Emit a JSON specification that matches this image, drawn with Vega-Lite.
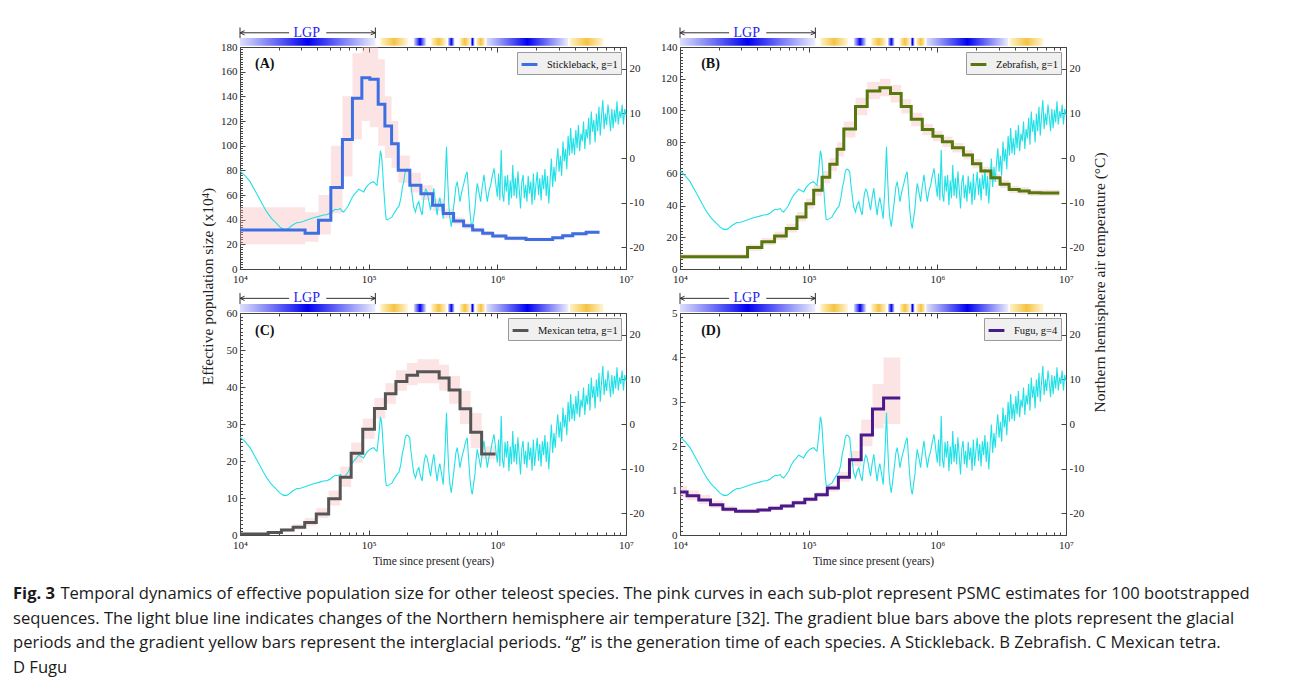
{
  "$schema": "https://vega.github.io/schema/vega-lite/v6.json",
  "background": "white",
  "padding": {"left": 13, "top": 25, "right": 5, "bottom": 5},
  "datasets": {
    "glacial": [{"t0":10000,"t1":112700},{"t0":224400,"t1":280000},{"t0":413000,"t1":466000},{"t0":617000,"t1":667000},{"t0":822000,"t1":3560000}],
    "interglacial": [{"t0":123300,"t1":201400},{"t0":306000,"t1":401000},{"t0":509000,"t1":617000},{"t0":687000,"t1":807000},{"t0":3660000,"t1":6670000}],
    "lgp_line": [{"t0":10000,"t1":24100},{"t0":46800,"t1":112700}],
    "lgp_ends": [{"t":10000,"side":"left"},{"t":112700,"side":"right"}],
    "lgp_label": [{"t":33000,"label":"LGP"}],
    "temp": [
      {"t":10000,"temp":-2.9},{"t":11000,"temp":-4.0},{"t":11970,"temp":-5.3},{"t":13000,"temp":-7.2},{"t":13900,"temp":-8.7},{"t":15000,"temp":-10.5},{"t":16140,"temp":-12.1},{"t":17500,"temp":-13.5},{"t":19320,"temp":-14.7},{"t":20500,"temp":-15.5},{"t":21780,"temp":-16.0},{"t":23000,"temp":-16.0},{"t":23820,"temp":-15.8},{"t":25500,"temp":-15.1},{"t":27670,"temp":-14.5},{"t":29500,"temp":-14.4},{"t":31190,"temp":-14.2},{"t":34000,"temp":-13.8},{"t":37240,"temp":-13.4},{"t":41000,"temp":-13.1},{"t":44570,"temp":-12.8},{"t":47500,"temp":-12.7},{"t":50120,"temp":-12.4},{"t":52500,"temp":-11.9},{"t":54950,"temp":-11.5},{"t":57500,"temp":-11.6},{"t":60120,"temp":-11.3},{"t":62000,"temp":-11.9},{"t":63830,"temp":-12.1},{"t":66500,"temp":-11.5},{"t":69820,"temp":-10.6},{"t":73000,"temp":-9.3},{"t":76380,"temp":-8.3},{"t":80000,"temp":-7.7},{"t":83560,"temp":-7.0},{"t":87500,"temp":-7.3},{"t":91410,"temp":-7.6},{"t":95500,"temp":-6.6},{"t":100000,"temp":-5.9},{"t":105000,"temp":-5.5},{"t":109400,"temp":-5.3},{"t":113000,"temp":-5.8},{"t":116100,"temp":-6.1},{"t":119500,"temp":-3.0},{"t":123300,"temp":1.6},{"t":125000,"temp":1.0},{"t":127100,"temp":-0.8},{"t":131000,"temp":-7.0},{"t":134900,"temp":-12.1},{"t":137000,"temp":-13.8},{"t":139000,"temp":-13.9},{"t":145000,"temp":-13.6},{"t":152100,"temp":-13.2},{"t":158000,"temp":-12.3},{"t":166300,"temp":-11.3},{"t":172000,"temp":-10.8},{"t":178000,"temp":-9.0},{"t":183000,"temp":-6.5},{"t":187500,"temp":-5.3},{"t":192000,"temp":-3.2},{"t":196800,"temp":-2.5},{"t":202000,"temp":-2.6},{"t":208400,"temp":-3.1},{"t":212000,"temp":-5.5},{"t":217800,"temp":-8.3},{"t":224000,"temp":-11.0},{"t":231200,"temp":-12.1},{"t":238000,"temp":-10.5},{"t":245500,"temp":-9.8},{"t":252000,"temp":-11.5},{"t":260600,"temp":-12.8},{"t":266000,"temp":-10.0},{"t":271600,"temp":-7.9},{"t":278000,"temp":-7.0},{"t":285100,"temp":-7.6},{"t":294000,"temp":-9.8},{"t":302700,"temp":-11.7},{"t":311000,"temp":-9.0},{"t":320600,"temp":-6.8},{"t":330000,"temp":-9.8},{"t":340400,"temp":-12.8},{"t":348000,"temp":-10.5},{"t":357300,"temp":-8.9},{"t":368000,"temp":-11.0},{"t":379300,"temp":-13.6},{"t":391000,"temp":-7.0},{"t":402700,"temp":2.5},{"t":410000,"temp":-4.0},{"t":419800,"temp":-10.6},{"t":428000,"temp":-13.5},{"t":438500,"temp":-15.4},{"t":451000,"temp":-12.5},{"t":465600,"temp":-9.1},{"t":476000,"temp":-6.5},{"t":487500,"temp":-5.3},{"t":499000,"temp":-7.2},{"t":511700,"temp":-9.8},{"t":530000,"temp":-7.5},{"t":549500,"temp":-5.7},{"t":566000,"temp":-4.0},{"t":583400,"temp":-3.1},{"t":597000,"temp":-7.5},{"t":612300,"temp":-12.1},{"t":625000,"temp":-14.5},{"t":638300,"temp":-15.8},{"t":654000,"temp":-13.5},{"t":669900,"temp":-11.3},{"t":684000,"temp":-8.0},{"t":698200,"temp":-5.7},{"t":719000,"temp":-7.6},{"t":741300,"temp":-9.8},{"t":763000,"temp":-6.5},{"t":787000,"temp":-3.8},{"t":810000,"temp":-6.8},{"t":835700,"temp":-9.8},{"t":860000,"temp":-7.5},{"t":887200,"temp":-6.1},{"t":914000,"temp":-4.0},{"t":941900,"temp":-2.3},{"t":970000,"temp":-5.5},
      {"t":1000000,"temp":-8.7},{"t":1023000,"temp":-3.5},{"t":1047000,"temp":-9.5},{"t":1072000,"temp":1.8},{"t":1096000,"temp":-8.0},{"t":1122000,"temp":-9.8},{"t":1148000,"temp":-4.0},{"t":1175000,"temp":-7.5},{"t":1202000,"temp":-3.8},{"t":1230000,"temp":-10.6},{"t":1259000,"temp":-5.0},{"t":1288000,"temp":-9.0},{"t":1318000,"temp":-1.6},{"t":1349000,"temp":-8.5},{"t":1380000,"temp":-4.5},{"t":1413000,"temp":-9.1},{"t":1445000,"temp":-3.0},{"t":1479000,"temp":-7.0},{"t":1514000,"temp":-11.3},{"t":1549000,"temp":-5.5},{"t":1585000,"temp":-3.8},{"t":1622000,"temp":-9.0},{"t":1660000,"temp":-6.0},{"t":1698000,"temp":-9.8},{"t":1738000,"temp":-4.0},{"t":1778000,"temp":-8.0},{"t":1820000,"temp":-5.3},{"t":1862000,"temp":-10.5},{"t":1905000,"temp":-3.5},{"t":1950000,"temp":-9.4},{"t":1995000,"temp":-6.0},{"t":2042000,"temp":-3.1},{"t":2089000,"temp":-8.3},{"t":2138000,"temp":-4.5},{"t":2188000,"temp":-9.5},{"t":2239000,"temp":-3.8},{"t":2291000,"temp":-7.0},{"t":2344000,"temp":-2.5},{"t":2399000,"temp":-8.5},{"t":2455000,"temp":-4.0},{"t":2512000,"temp":-10.2},{"t":2570000,"temp":-5.0},{"t":2630000,"temp":-0.1},{"t":2692000,"temp":-6.5},{"t":2754000,"temp":-2.0},{"t":2818000,"temp":-5.3},{"t":2884000,"temp":-1.0},{"t":2951000,"temp":2.2},{"t":3020000,"temp":-3.1},{"t":3090000,"temp":0.5},{"t":3162000,"temp":-4.0},{"t":3236000,"temp":3.7},{"t":3311000,"temp":-0.8},{"t":3388000,"temp":2.0},{"t":3467000,"temp":-2.5},{"t":3548000,"temp":5.0},{"t":3631000,"temp":0.5},{"t":3715000,"temp":6.7},{"t":3802000,"temp":1.0},{"t":3890000,"temp":4.5},{"t":3981000,"temp":0.7},{"t":4074000,"temp":6.3},{"t":4169000,"temp":2.2},{"t":4266000,"temp":7.4},{"t":4365000,"temp":1.5},{"t":4467000,"temp":5.5},{"t":4571000,"temp":3.7},{"t":4677000,"temp":8.2},{"t":4786000,"temp":2.0},{"t":4898000,"temp":6.5},{"t":5012000,"temp":4.4},{"t":5129000,"temp":9.0},{"t":5248000,"temp":3.0},{"t":5370000,"temp":10.4},{"t":5495000,"temp":5.9},{"t":5623000,"temp":8.5},{"t":5754000,"temp":3.5},{"t":5888000,"temp":10.0},{"t":6026000,"temp":6.0},{"t":6166000,"temp":11.5},{"t":6310000,"temp":5.0},{"t":6457000,"temp":9.5},{"t":6607000,"temp":13.0},{"t":6761000,"temp":6.5},{"t":6918000,"temp":10.0},{"t":7079000,"temp":7.4},{"t":7244000,"temp":12.0},{"t":7413000,"temp":9.3},{"t":7586000,"temp":6.0},{"t":7762000,"temp":11.0},{"t":7943000,"temp":6.7},{"t":8128000,"temp":10.8},{"t":8318000,"temp":8.0},{"t":8511000,"temp":12.7},{"t":8710000,"temp":7.5},{"t":8913000,"temp":10.5},{"t":9120000,"temp":9.0},{"t":9333000,"temp":12.0},{"t":9550000,"temp":7.5},{"t":9772000,"temp":11.0},{"t":10000000,"temp":9.7}
    ],
    "stepA": [
      {"t":10000,"pop":31.6,"lo":20,"hi":50},{"t":32060,"pop":28.9,"lo":22,"hi":46},{"t":40740,"pop":39.5,"lo":28,"hi":60},{"t":50820,"pop":66,"lo":45,"hi":100},{"t":62520,"pop":105,"lo":75,"hi":140},{"t":74820,"pop":138.4,"lo":105,"hi":175},{"t":88510,"pop":155,"lo":120,"hi":180},{"t":102100,"pop":153.8,"lo":115,"hi":180},{"t":118600,"pop":133.5,"lo":100,"hi":170},{"t":133700,"pop":116,"lo":90,"hi":140},{"t":150700,"pop":101.6,"lo":82,"hi":120},{"t":169800,"pop":80,"lo":70,"hi":92},{"t":208900,"pop":68,"lo":62,"hi":78},{"t":254700,"pop":61,"lo":56,"hi":68},{"t":314100,"pop":51.6,"lo":47,"hi":57},{"t":380200,"pop":45,"lo":41,"hi":49},{"t":457100,"pop":39,"lo":36,"hi":42},{"t":547000,"pop":35,"lo":32.5,"hi":37.5},{"t":642700,"pop":31.6,"lo":29.5,"hi":33.5},{"t":769100,"pop":28.9,"lo":27,"hi":30.8},{"t":920400,"pop":26.8,"lo":25,"hi":28.5},{"t":1167000,"pop":24.9,"lo":23.3,"hi":26.5},{"t":1671000,"pop":24,"lo":22.5,"hi":25.5},{"t":2692000,"pop":25.4,"lo":24,"hi":27},{"t":3221000,"pop":27,"lo":25.5,"hi":28.5},{"t":3855000,"pop":28.6,"lo":27,"hi":30},{"t":4898000,"pop":29.7,"lo":28.3,"hi":31},{"t":6223000,"pop":29.7,"lo":28.3,"hi":31}
    ],
    "stepB": [
      {"t":10000,"pop":7.8,"lo":6.5,"hi":9.5},{"t":33500,"pop":13.5,"lo":11.5,"hi":15.5},{"t":43250,"pop":17.2,"lo":15,"hi":19.5},{"t":54330,"pop":20.8,"lo":18.5,"hi":23.5},{"t":66990,"pop":25.6,"lo":23,"hi":28.5},{"t":81100,"pop":32.8,"lo":30,"hi":36},{"t":95280,"pop":41.2,"lo":38,"hi":44.5},{"t":109400,"pop":49.6,"lo":46,"hi":53},{"t":127100,"pop":57.8,"lo":54,"hi":62},{"t":145900,"pop":66,"lo":62,"hi":70},{"t":166300,"pop":75.5,"lo":71,"hi":80},{"t":187500,"pop":88.3,"lo":83,"hi":93},{"t":231200,"pop":102.4,"lo":97,"hi":108},{"t":285100,"pop":112.2,"lo":107,"hi":118},{"t":357300,"pop":114.3,"lo":109,"hi":120},{"t":432500,"pop":110.6,"lo":105,"hi":116},{"t":523600,"pop":102.4,"lo":98,"hi":107},{"t":626600,"pop":94.4,"lo":90,"hi":98.5},{"t":763800,"pop":88,"lo":84.5,"hi":91.5},{"t":924700,"pop":83.7,"lo":80.5,"hi":87},{"t":1094000,"pop":80.3,"lo":77,"hi":83.5},{"t":1309000,"pop":76.5,"lo":73.5,"hi":79.5},{"t":1596000,"pop":71.9,"lo":69,"hi":75},{"t":1875000,"pop":66.4,"lo":63.5,"hi":69.5},{"t":2178000,"pop":61.8,"lo":59,"hi":64.5},{"t":2606000,"pop":57.6,"lo":55,"hi":60},{"t":3076000,"pop":53.4,"lo":51,"hi":56},{"t":3614000,"pop":50.2,"lo":48,"hi":52.5},{"t":4325000,"pop":49.2,"lo":47,"hi":51.5},{"t":5176000,"pop":48.1,"lo":46,"hi":50},{"t":6383000,"pop":47.9,"lo":46,"hi":50},{"t":8872000,"pop":47.9,"lo":46,"hi":50}
    ],
    "stepC": [
      {"t":10000,"pop":0.3,"lo":0.1,"hi":0.6},{"t":16560,"pop":0.7,"lo":0.4,"hi":1.1},{"t":20990,"pop":1.35,"lo":0.9,"hi":1.9},{"t":25880,"pop":2.1,"lo":1.5,"hi":2.9},{"t":31840,"pop":3.4,"lo":2.5,"hi":4.5},{"t":39170,"pop":5.7,"lo":4.5,"hi":7.2},{"t":48870,"pop":9.8,"lo":8,"hi":12},{"t":60120,"pop":15.6,"lo":13,"hi":18.5},{"t":73110,"pop":22.1,"lo":19.5,"hi":25},{"t":89950,"pop":28.6,"lo":26,"hi":31.5},{"t":110900,"pop":34.2,"lo":31.5,"hi":37},{"t":134900,"pop":38.2,"lo":35.5,"hi":41},{"t":162900,"pop":41.5,"lo":39,"hi":44.5},{"t":198200,"pop":43.2,"lo":40.5,"hi":46.5},{"t":239900,"pop":44.1,"lo":41,"hi":47.5},{"t":353200,"pop":42.4,"lo":39,"hi":46},{"t":421700,"pop":39.2,"lo":35.5,"hi":43},{"t":512900,"pop":34.1,"lo":30,"hi":39},{"t":620900,"pop":27.8,"lo":23.5,"hi":33},{"t":755100,"pop":21.9,"lo":20.5,"hi":24},{"t":968300,"pop":21.9,"lo":20.5,"hi":24}
    ],
    "stepD": [
      {"t":10000,"pop":0.97,"lo":0.85,"hi":1.1},{"t":11350,"pop":0.886,"lo":0.78,"hi":1.0},{"t":14000,"pop":0.788,"lo":0.7,"hi":0.9},{"t":17260,"pop":0.683,"lo":0.61,"hi":0.77},{"t":21530,"pop":0.578,"lo":0.52,"hi":0.65},{"t":27040,"pop":0.533,"lo":0.49,"hi":0.59},{"t":40360,"pop":0.563,"lo":0.52,"hi":0.61},{"t":49770,"pop":0.6,"lo":0.56,"hi":0.65},{"t":61380,"pop":0.653,"lo":0.61,"hi":0.7},{"t":75860,"pop":0.728,"lo":0.68,"hi":0.78},{"t":93330,"pop":0.803,"lo":0.75,"hi":0.86},{"t":113800,"pop":0.908,"lo":0.85,"hi":0.97},{"t":139600,"pop":1.059,"lo":0.98,"hi":1.14},{"t":170200,"pop":1.299,"lo":1.2,"hi":1.42},{"t":207500,"pop":1.697,"lo":1.55,"hi":1.9},{"t":255900,"pop":2.25,"lo":2.0,"hi":2.6},{"t":313300,"pop":2.84,"lo":2.4,"hi":3.4},{"t":382100,"pop":3.086,"lo":2.5,"hi":4.0},{"t":515200,"pop":3.086,"lo":2.5,"hi":4.0}
    ]
  },
  "title": {
    "text": "Fig. 3",
    "subtitle": [
      "\u200b\u00a0\u00a0\u00a0\u00a0\u00a0\u00a0\u00a0\u00a0\u00a0\u00a0\u00a0Temporal dynamics of effective population size for other teleost species. The pink curves in each sub-plot represent PSMC estimates for 100 bootstrapped",
      "sequences. The light blue line indicates changes of the Northern hemisphere air temperature [32]. The gradient blue bars above the plots represent the glacial",
      "periods and the gradient yellow bars represent the interglacial periods. \u201cg\u201d is the generation time of each species. A Stickleback. B Zebrafish. C Mexican tetra.",
      "D Fugu"
    ],
    "orient": "bottom",
    "anchor": "start",
    "frame": "bounds",
    "font": "Open Sans",
    "fontSize": 16.6,
    "fontWeight": "bold",
    "color": "#1a1a1a",
    "subtitleFont": "Open Sans",
    "subtitleFontSize": 16.6,
    "subtitleFontWeight": "normal",
    "subtitleColor": "#1a1a1a",
    "subtitleLineHeight": 24.5,
    "subtitlePadding": -16.6,
    "offset": 0,
    "dx": -187,
    "dy": 19
  },
  "columns": 2,
  "spacing": {"row": 44, "column": 54},
  "bounds": "flush",
  "resolve": {"scale": {"color": "independent"}, "legend": {"color": "independent"}},
  "concat": [
    {
      "width": 386, "height": 222,
      "layer": [
        {"layer": [
          {"data": {"name": "glacial"}, "mark": {"type": "rect", "fill": {"gradient": "linear", "stops": [{"offset": 0, "color": "#dde0fa"}, {"offset": 0.5, "color": "#0000f0"}, {"offset": 1, "color": "#eceefc"}]}},
           "encoding": {"x": {"field": "t0", "type": "quantitative", "scale": {"type": "log", "domain": [10000, 10000000], "nice": false}, "axis": null}, "x2": {"field": "t1"}, "y": {"datum": 1.006, "type": "quantitative", "scale": {"domain": [0, 1], "nice": false, "zero": false}, "axis": null}, "y2": {"datum": 1.041}}},
          {"data": {"name": "interglacial"}, "mark": {"type": "rect", "fill": {"gradient": "linear", "stops": [{"offset": 0, "color": "#fff3c8"}, {"offset": 0.5, "color": "#f4c343"}, {"offset": 1, "color": "#fff5d6"}]}},
           "encoding": {"x": {"field": "t0", "type": "quantitative", "axis": null}, "x2": {"field": "t1"}, "y": {"datum": 1.006, "type": "quantitative", "axis": null}, "y2": {"datum": 1.041}}},
          {"data": {"name": "lgp_line"}, "mark": {"type": "rule", "color": "#333333", "strokeWidth": 1},
           "encoding": {"x": {"field": "t0", "type": "quantitative", "axis": null}, "x2": {"field": "t1"}, "y": {"datum": 1.064, "type": "quantitative", "axis": null}}},
          {"data": {"name": "lgp_ends"}, "mark": {"type": "rule", "color": "#333333", "strokeWidth": 1},
           "encoding": {"x": {"field": "t", "type": "quantitative", "axis": null}, "y": {"datum": 1.04, "type": "quantitative", "axis": null}, "y2": {"datum": 1.088}}},
          {"data": {"name": "lgp_ends"}, "mark": {"type": "point", "filled": false, "color": "#333333", "strokeWidth": 1, "size": 50, "opacity": 1},
           "encoding": {"x": {"field": "t", "type": "quantitative", "axis": null}, "y": {"datum": 1.064, "type": "quantitative", "axis": null}, "shape": {"field": "side", "type": "nominal", "scale": {"domain": ["left", "right"], "range": ["M0,0L1.3,-0.6M0,0L1.3,0.6", "M0,0L-1.3,-0.6M0,0L-1.3,0.6"]}, "legend": null}}},
          {"data": {"name": "lgp_label"}, "mark": {"type": "text", "font": "Liberation Serif", "fontSize": 14, "color": "#2424f0"},
           "encoding": {"x": {"field": "t", "type": "quantitative", "axis": null}, "y": {"datum": 1.064, "type": "quantitative", "axis": null}, "text": {"field": "label"}}},
          {"data": {"values": [{"label": "(A)"}]}, "mark": {"type": "text", "font": "Liberation Serif", "fontSize": 14, "fontWeight": "bold", "align": "left", "color": "#111111"},
           "encoding": {"x": {"datum": 13100, "type": "quantitative", "axis": null}, "y": {"datum": 0.922, "type": "quantitative", "axis": null}, "text": {"field": "label"}}}
        ]},
        {"data": {"name": "stepA"}, "mark": {"type": "area", "interpolate": "step-after", "color": "#f7b3b3", "opacity": 0.35},
         "encoding": {"x": {"field": "t", "type": "quantitative", "scale": {"type": "log", "domain": [10000, 10000000], "nice": false}, "axis": null}, "y": {"field": "lo", "type": "quantitative", "scale": {"domain": [0, 180], "nice": false}, "axis": null}, "y2": {"field": "hi"}}},
        {"data": {"name": "temp"}, "mark": {"type": "line", "color": "#22e0e6", "strokeWidth": 1.1},
         "encoding": {"x": {"field": "t", "type": "quantitative", "scale": {"type": "log", "domain": [10000, 10000000], "nice": false}, "axis": null}, "y": {"field": "temp", "type": "quantitative", "scale": {"domain": [-24.9, 24.9], "nice": false, "zero": false},
           "axis": {"orient": "right", "values": [-20, -10, 0, 10, 20], "labelExpr": "datum.value < 0 ? '-' + abs(datum.value) : '' + datum.value", "tickSize": -5, "labelPadding": 8, "title": null}}}},
        {"data": {"name": "stepA"}, "mark": {"type": "line", "opacity": 0},
         "encoding": {"x": {"field": "t", "type": "quantitative", "scale": {"type": "log", "domain": [10000, 10000000], "nice": false}, "axis": {"orient": "top", "values": [10000,20000,30000,40000,50000,60000,70000,80000,90000,100000,200000,300000,400000,500000,600000,700000,800000,900000,1000000,2000000,3000000,4000000,5000000,6000000,7000000,8000000,9000000,10000000], "labels": false, "domain": false, "tickSize": {"condition": {"test": "datum.value == 10000 || datum.value == 100000 || datum.value == 1000000 || datum.value == 10000000", "value": -5}, "value": -3}, "title": null}},
           "y": {"field": "pop", "type": "quantitative", "scale": {"domain": [0, 180], "nice": false}, "axis": null}}},
        {"data": {"name": "stepA"}, "mark": {"type": "line", "interpolate": "step-after", "strokeWidth": 3},
         "encoding": {
           "x": {"field": "t", "type": "quantitative", "scale": {"type": "log", "domain": [10000, 10000000], "nice": false}, "axis": {"values": [10000,20000,30000,40000,50000,60000,70000,80000,90000,100000,200000,300000,400000,500000,600000,700000,800000,900000,1000000,2000000,3000000,4000000,5000000,6000000,7000000,8000000,9000000,10000000], "labelExpr": "datum.value == 10000 ? '10⁴' : datum.value == 100000 ? '10⁵' : datum.value == 1000000 ? '10⁶' : datum.value == 10000000 ? '10⁷' : ''", "tickSize": {"condition": {"test": "datum.value == 10000 || datum.value == 100000 || datum.value == 1000000 || datum.value == 10000000", "value": -5}, "value": -3}, "labelPadding": 9, "title": null}},
           "y": {"field": "pop", "type": "quantitative", "scale": {"domain": [0, 180], "nice": false},
             "axis": {"orient": "left", "tickCount": 90, "labelExpr": "datum.value % 20 == 0 ? datum.label : ''", "tickSize": {"condition": {"test": "datum.value % 20 == 0", "value": -5}, "value": -2.5}, "labelPadding": 8, "title": "Effective population size (x10⁴)", "titleX": -32.5, "titleY": 239, "titleAngle": 270, "titleBaseline": "middle", "titleAlign": "center", "titleFontSize": 15.5}},
           "color": {"datum": "Stickleback, g=1", "type": "nominal", "scale": {"range": ["#3d6fe3"]}, "legend": {"title": null}}
         }}
      ],
      "resolve": {"scale": {"x": "independent", "y": "independent"}}
    },
    {
      "width": 386, "height": 222,
      "layer": [
        {"layer": [
          {"data": {"name": "glacial"}, "mark": {"type": "rect", "fill": {"gradient": "linear", "stops": [{"offset": 0, "color": "#dde0fa"}, {"offset": 0.5, "color": "#0000f0"}, {"offset": 1, "color": "#eceefc"}]}},
           "encoding": {"x": {"field": "t0", "type": "quantitative", "scale": {"type": "log", "domain": [10000, 10000000], "nice": false}, "axis": null}, "x2": {"field": "t1"}, "y": {"datum": 1.006, "type": "quantitative", "scale": {"domain": [0, 1], "nice": false, "zero": false}, "axis": null}, "y2": {"datum": 1.041}}},
          {"data": {"name": "interglacial"}, "mark": {"type": "rect", "fill": {"gradient": "linear", "stops": [{"offset": 0, "color": "#fff3c8"}, {"offset": 0.5, "color": "#f4c343"}, {"offset": 1, "color": "#fff5d6"}]}},
           "encoding": {"x": {"field": "t0", "type": "quantitative", "axis": null}, "x2": {"field": "t1"}, "y": {"datum": 1.006, "type": "quantitative", "axis": null}, "y2": {"datum": 1.041}}},
          {"data": {"name": "lgp_line"}, "mark": {"type": "rule", "color": "#333333", "strokeWidth": 1},
           "encoding": {"x": {"field": "t0", "type": "quantitative", "axis": null}, "x2": {"field": "t1"}, "y": {"datum": 1.064, "type": "quantitative", "axis": null}}},
          {"data": {"name": "lgp_ends"}, "mark": {"type": "rule", "color": "#333333", "strokeWidth": 1},
           "encoding": {"x": {"field": "t", "type": "quantitative", "axis": null}, "y": {"datum": 1.04, "type": "quantitative", "axis": null}, "y2": {"datum": 1.088}}},
          {"data": {"name": "lgp_ends"}, "mark": {"type": "point", "filled": false, "color": "#333333", "strokeWidth": 1, "size": 50, "opacity": 1},
           "encoding": {"x": {"field": "t", "type": "quantitative", "axis": null}, "y": {"datum": 1.064, "type": "quantitative", "axis": null}, "shape": {"field": "side", "type": "nominal", "scale": {"domain": ["left", "right"], "range": ["M0,0L1.3,-0.6M0,0L1.3,0.6", "M0,0L-1.3,-0.6M0,0L-1.3,0.6"]}, "legend": null}}},
          {"data": {"name": "lgp_label"}, "mark": {"type": "text", "font": "Liberation Serif", "fontSize": 14, "color": "#2424f0"},
           "encoding": {"x": {"field": "t", "type": "quantitative", "axis": null}, "y": {"datum": 1.064, "type": "quantitative", "axis": null}, "text": {"field": "label"}}},
          {"data": {"values": [{"label": "(B)"}]}, "mark": {"type": "text", "font": "Liberation Serif", "fontSize": 14, "fontWeight": "bold", "align": "left", "color": "#111111"},
           "encoding": {"x": {"datum": 14600, "type": "quantitative", "axis": null}, "y": {"datum": 0.922, "type": "quantitative", "axis": null}, "text": {"field": "label"}}}
        ]},
        {"data": {"name": "stepB"}, "mark": {"type": "area", "interpolate": "step-after", "color": "#f7b3b3", "opacity": 0.35},
         "encoding": {"x": {"field": "t", "type": "quantitative", "scale": {"type": "log", "domain": [10000, 10000000], "nice": false}, "axis": null}, "y": {"field": "lo", "type": "quantitative", "scale": {"domain": [0, 140], "nice": false}, "axis": null}, "y2": {"field": "hi"}}},
        {"data": {"name": "temp"}, "mark": {"type": "line", "color": "#22e0e6", "strokeWidth": 1.1},
         "encoding": {"x": {"field": "t", "type": "quantitative", "scale": {"type": "log", "domain": [10000, 10000000], "nice": false}, "axis": null}, "y": {"field": "temp", "type": "quantitative", "scale": {"domain": [-24.9, 24.9], "nice": false, "zero": false},
           "axis": {"orient": "right", "values": [-20, -10, 0, 10, 20], "labelExpr": "datum.value < 0 ? '-' + abs(datum.value) : '' + datum.value", "tickSize": -5, "labelPadding": 8, "title": "Northern hemisphere air temperature (°C)", "titleX": 33, "titleY": 235, "titleAngle": 270, "titleBaseline": "middle", "titleAlign": "center", "titleFontSize": 15.5}}}},
        {"data": {"name": "stepB"}, "mark": {"type": "line", "opacity": 0},
         "encoding": {"x": {"field": "t", "type": "quantitative", "scale": {"type": "log", "domain": [10000, 10000000], "nice": false}, "axis": {"orient": "top", "values": [10000,20000,30000,40000,50000,60000,70000,80000,90000,100000,200000,300000,400000,500000,600000,700000,800000,900000,1000000,2000000,3000000,4000000,5000000,6000000,7000000,8000000,9000000,10000000], "labels": false, "domain": false, "tickSize": {"condition": {"test": "datum.value == 10000 || datum.value == 100000 || datum.value == 1000000 || datum.value == 10000000", "value": -5}, "value": -3}, "title": null}},
           "y": {"field": "pop", "type": "quantitative", "scale": {"domain": [0, 140], "nice": false}, "axis": null}}},
        {"data": {"name": "stepB"}, "mark": {"type": "line", "interpolate": "step-after", "strokeWidth": 3},
         "encoding": {
           "x": {"field": "t", "type": "quantitative", "scale": {"type": "log", "domain": [10000, 10000000], "nice": false}, "axis": {"values": [10000,20000,30000,40000,50000,60000,70000,80000,90000,100000,200000,300000,400000,500000,600000,700000,800000,900000,1000000,2000000,3000000,4000000,5000000,6000000,7000000,8000000,9000000,10000000], "labelExpr": "datum.value == 10000 ? '10⁴' : datum.value == 100000 ? '10⁵' : datum.value == 1000000 ? '10⁶' : datum.value == 10000000 ? '10⁷' : ''", "tickSize": {"condition": {"test": "datum.value == 10000 || datum.value == 100000 || datum.value == 1000000 || datum.value == 10000000", "value": -5}, "value": -3}, "labelPadding": 9, "title": null}},
           "y": {"field": "pop", "type": "quantitative", "scale": {"domain": [0, 140], "nice": false},
             "axis": {"orient": "left", "tickCount": 70, "labelExpr": "datum.value % 20 == 0 ? datum.label : ''", "tickSize": {"condition": {"test": "datum.value % 20 == 0", "value": -5}, "value": -2.5}, "labelPadding": 8, "title": null}},
           "color": {"datum": "Zebrafish, g=1", "type": "nominal", "scale": {"range": ["#56780e"]}, "legend": {"title": null}}
         }}
      ],
      "resolve": {"scale": {"x": "independent", "y": "independent"}}
    },
    {
      "width": 386, "height": 222,
      "layer": [
        {"layer": [
          {"data": {"name": "glacial"}, "mark": {"type": "rect", "fill": {"gradient": "linear", "stops": [{"offset": 0, "color": "#dde0fa"}, {"offset": 0.5, "color": "#0000f0"}, {"offset": 1, "color": "#eceefc"}]}},
           "encoding": {"x": {"field": "t0", "type": "quantitative", "scale": {"type": "log", "domain": [10000, 10000000], "nice": false}, "axis": null}, "x2": {"field": "t1"}, "y": {"datum": 1.004, "type": "quantitative", "scale": {"domain": [0, 1], "nice": false, "zero": false}, "axis": null}, "y2": {"datum": 1.041}}},
          {"data": {"name": "interglacial"}, "mark": {"type": "rect", "fill": {"gradient": "linear", "stops": [{"offset": 0, "color": "#fff3c8"}, {"offset": 0.5, "color": "#f4c343"}, {"offset": 1, "color": "#fff5d6"}]}},
           "encoding": {"x": {"field": "t0", "type": "quantitative", "axis": null}, "x2": {"field": "t1"}, "y": {"datum": 1.004, "type": "quantitative", "axis": null}, "y2": {"datum": 1.041}}},
          {"data": {"name": "lgp_line"}, "mark": {"type": "rule", "color": "#333333", "strokeWidth": 1},
           "encoding": {"x": {"field": "t0", "type": "quantitative", "axis": null}, "x2": {"field": "t1"}, "y": {"datum": 1.066, "type": "quantitative", "axis": null}}},
          {"data": {"name": "lgp_ends"}, "mark": {"type": "rule", "color": "#333333", "strokeWidth": 1},
           "encoding": {"x": {"field": "t", "type": "quantitative", "axis": null}, "y": {"datum": 1.04, "type": "quantitative", "axis": null}, "y2": {"datum": 1.09}}},
          {"data": {"name": "lgp_ends"}, "mark": {"type": "point", "filled": false, "color": "#333333", "strokeWidth": 1, "size": 50, "opacity": 1},
           "encoding": {"x": {"field": "t", "type": "quantitative", "axis": null}, "y": {"datum": 1.066, "type": "quantitative", "axis": null}, "shape": {"field": "side", "type": "nominal", "scale": {"domain": ["left", "right"], "range": ["M0,0L1.3,-0.6M0,0L1.3,0.6", "M0,0L-1.3,-0.6M0,0L-1.3,0.6"]}, "legend": null}}},
          {"data": {"name": "lgp_label"}, "mark": {"type": "text", "font": "Liberation Serif", "fontSize": 14, "color": "#2424f0"},
           "encoding": {"x": {"field": "t", "type": "quantitative", "axis": null}, "y": {"datum": 1.066, "type": "quantitative", "axis": null}, "text": {"field": "label"}}},
          {"data": {"values": [{"label": "(C)"}]}, "mark": {"type": "text", "font": "Liberation Serif", "fontSize": 14, "fontWeight": "bold", "align": "left", "color": "#111111"},
           "encoding": {"x": {"datum": 13100, "type": "quantitative", "axis": null}, "y": {"datum": 0.918, "type": "quantitative", "axis": null}, "text": {"field": "label"}}}
        ]},
        {"data": {"name": "stepC"}, "mark": {"type": "area", "interpolate": "step-after", "color": "#f7b3b3", "opacity": 0.35},
         "encoding": {"x": {"field": "t", "type": "quantitative", "scale": {"type": "log", "domain": [10000, 10000000], "nice": false}, "axis": null}, "y": {"field": "lo", "type": "quantitative", "scale": {"domain": [0, 60], "nice": false}, "axis": null}, "y2": {"field": "hi"}}},
        {"data": {"name": "temp"}, "mark": {"type": "line", "color": "#22e0e6", "strokeWidth": 1.1},
         "encoding": {"x": {"field": "t", "type": "quantitative", "scale": {"type": "log", "domain": [10000, 10000000], "nice": false}, "axis": null}, "y": {"field": "temp", "type": "quantitative", "scale": {"domain": [-24.9, 24.9], "nice": false, "zero": false},
           "axis": {"orient": "right", "values": [-20, -10, 0, 10, 20], "labelExpr": "datum.value < 0 ? '-' + abs(datum.value) : '' + datum.value", "tickSize": -5, "labelPadding": 8, "title": null}}}},
        {"data": {"name": "stepC"}, "mark": {"type": "line", "opacity": 0},
         "encoding": {"x": {"field": "t", "type": "quantitative", "scale": {"type": "log", "domain": [10000, 10000000], "nice": false}, "axis": {"orient": "top", "values": [10000,20000,30000,40000,50000,60000,70000,80000,90000,100000,200000,300000,400000,500000,600000,700000,800000,900000,1000000,2000000,3000000,4000000,5000000,6000000,7000000,8000000,9000000,10000000], "labels": false, "domain": false, "tickSize": {"condition": {"test": "datum.value == 10000 || datum.value == 100000 || datum.value == 1000000 || datum.value == 10000000", "value": -5}, "value": -3}, "title": null}},
           "y": {"field": "pop", "type": "quantitative", "scale": {"domain": [0, 60], "nice": false}, "axis": null}}},
        {"data": {"name": "stepC"}, "mark": {"type": "line", "interpolate": "step-after", "strokeWidth": 3},
         "encoding": {
           "x": {"field": "t", "type": "quantitative", "scale": {"type": "log", "domain": [10000, 10000000], "nice": false}, "axis": {"values": [10000,20000,30000,40000,50000,60000,70000,80000,90000,100000,200000,300000,400000,500000,600000,700000,800000,900000,1000000,2000000,3000000,4000000,5000000,6000000,7000000,8000000,9000000,10000000], "labelExpr": "datum.value == 10000 ? '10⁴' : datum.value == 100000 ? '10⁵' : datum.value == 1000000 ? '10⁶' : datum.value == 10000000 ? '10⁷' : ''", "tickSize": {"condition": {"test": "datum.value == 10000 || datum.value == 100000 || datum.value == 1000000 || datum.value == 10000000", "value": -5}, "value": -3}, "labelPadding": 9, "title": "Time since present (years)", "titleFontSize": 11.5, "titlePadding": 3}},
           "y": {"field": "pop", "type": "quantitative", "scale": {"domain": [0, 60], "nice": false},
             "axis": {"orient": "left", "tickCount": 60, "labelExpr": "datum.value % 10 == 0 ? datum.label : ''", "tickSize": {"condition": {"test": "datum.value % 10 == 0", "value": -5}, "value": -2.5}, "labelPadding": 8, "title": null}},
           "color": {"datum": "Mexican tetra, g=1", "type": "nominal", "scale": {"range": ["#555555"]}, "legend": {"title": null}}
         }}
      ],
      "resolve": {"scale": {"x": "independent", "y": "independent"}}
    },
    {
      "width": 386, "height": 222,
      "layer": [
        {"layer": [
          {"data": {"name": "glacial"}, "mark": {"type": "rect", "fill": {"gradient": "linear", "stops": [{"offset": 0, "color": "#dde0fa"}, {"offset": 0.5, "color": "#0000f0"}, {"offset": 1, "color": "#eceefc"}]}},
           "encoding": {"x": {"field": "t0", "type": "quantitative", "scale": {"type": "log", "domain": [10000, 10000000], "nice": false}, "axis": null}, "x2": {"field": "t1"}, "y": {"datum": 1.004, "type": "quantitative", "scale": {"domain": [0, 1], "nice": false, "zero": false}, "axis": null}, "y2": {"datum": 1.041}}},
          {"data": {"name": "interglacial"}, "mark": {"type": "rect", "fill": {"gradient": "linear", "stops": [{"offset": 0, "color": "#fff3c8"}, {"offset": 0.5, "color": "#f4c343"}, {"offset": 1, "color": "#fff5d6"}]}},
           "encoding": {"x": {"field": "t0", "type": "quantitative", "axis": null}, "x2": {"field": "t1"}, "y": {"datum": 1.004, "type": "quantitative", "axis": null}, "y2": {"datum": 1.041}}},
          {"data": {"name": "lgp_line"}, "mark": {"type": "rule", "color": "#333333", "strokeWidth": 1},
           "encoding": {"x": {"field": "t0", "type": "quantitative", "axis": null}, "x2": {"field": "t1"}, "y": {"datum": 1.066, "type": "quantitative", "axis": null}}},
          {"data": {"name": "lgp_ends"}, "mark": {"type": "rule", "color": "#333333", "strokeWidth": 1},
           "encoding": {"x": {"field": "t", "type": "quantitative", "axis": null}, "y": {"datum": 1.04, "type": "quantitative", "axis": null}, "y2": {"datum": 1.09}}},
          {"data": {"name": "lgp_ends"}, "mark": {"type": "point", "filled": false, "color": "#333333", "strokeWidth": 1, "size": 50, "opacity": 1},
           "encoding": {"x": {"field": "t", "type": "quantitative", "axis": null}, "y": {"datum": 1.066, "type": "quantitative", "axis": null}, "shape": {"field": "side", "type": "nominal", "scale": {"domain": ["left", "right"], "range": ["M0,0L1.3,-0.6M0,0L1.3,0.6", "M0,0L-1.3,-0.6M0,0L-1.3,0.6"]}, "legend": null}}},
          {"data": {"name": "lgp_label"}, "mark": {"type": "text", "font": "Liberation Serif", "fontSize": 14, "color": "#2424f0"},
           "encoding": {"x": {"field": "t", "type": "quantitative", "axis": null}, "y": {"datum": 1.066, "type": "quantitative", "axis": null}, "text": {"field": "label"}}},
          {"data": {"values": [{"label": "(D)"}]}, "mark": {"type": "text", "font": "Liberation Serif", "fontSize": 14, "fontWeight": "bold", "align": "left", "color": "#111111"},
           "encoding": {"x": {"datum": 14600, "type": "quantitative", "axis": null}, "y": {"datum": 0.918, "type": "quantitative", "axis": null}, "text": {"field": "label"}}}
        ]},
        {"data": {"name": "stepD"}, "mark": {"type": "area", "interpolate": "step-after", "color": "#f7b3b3", "opacity": 0.35},
         "encoding": {"x": {"field": "t", "type": "quantitative", "scale": {"type": "log", "domain": [10000, 10000000], "nice": false}, "axis": null}, "y": {"field": "lo", "type": "quantitative", "scale": {"domain": [0, 5], "nice": false}, "axis": null}, "y2": {"field": "hi"}}},
        {"data": {"name": "temp"}, "mark": {"type": "line", "color": "#22e0e6", "strokeWidth": 1.1},
         "encoding": {"x": {"field": "t", "type": "quantitative", "scale": {"type": "log", "domain": [10000, 10000000], "nice": false}, "axis": null}, "y": {"field": "temp", "type": "quantitative", "scale": {"domain": [-24.9, 24.9], "nice": false, "zero": false},
           "axis": {"orient": "right", "values": [-20, -10, 0, 10, 20], "labelExpr": "datum.value < 0 ? '-' + abs(datum.value) : '' + datum.value", "tickSize": -5, "labelPadding": 8, "title": null}}}},
        {"data": {"name": "stepD"}, "mark": {"type": "line", "opacity": 0},
         "encoding": {"x": {"field": "t", "type": "quantitative", "scale": {"type": "log", "domain": [10000, 10000000], "nice": false}, "axis": {"orient": "top", "values": [10000,20000,30000,40000,50000,60000,70000,80000,90000,100000,200000,300000,400000,500000,600000,700000,800000,900000,1000000,2000000,3000000,4000000,5000000,6000000,7000000,8000000,9000000,10000000], "labels": false, "domain": false, "tickSize": {"condition": {"test": "datum.value == 10000 || datum.value == 100000 || datum.value == 1000000 || datum.value == 10000000", "value": -5}, "value": -3}, "title": null}},
           "y": {"field": "pop", "type": "quantitative", "scale": {"domain": [0, 5], "nice": false}, "axis": null}}},
        {"data": {"name": "stepD"}, "mark": {"type": "line", "interpolate": "step-after", "strokeWidth": 3},
         "encoding": {
           "x": {"field": "t", "type": "quantitative", "scale": {"type": "log", "domain": [10000, 10000000], "nice": false}, "axis": {"values": [10000,20000,30000,40000,50000,60000,70000,80000,90000,100000,200000,300000,400000,500000,600000,700000,800000,900000,1000000,2000000,3000000,4000000,5000000,6000000,7000000,8000000,9000000,10000000], "labelExpr": "datum.value == 10000 ? '10⁴' : datum.value == 100000 ? '10⁵' : datum.value == 1000000 ? '10⁶' : datum.value == 10000000 ? '10⁷' : ''", "tickSize": {"condition": {"test": "datum.value == 10000 || datum.value == 100000 || datum.value == 1000000 || datum.value == 10000000", "value": -5}, "value": -3}, "labelPadding": 9, "title": "Time since present (years)", "titleFontSize": 11.5, "titlePadding": 3}},
           "y": {"field": "pop", "type": "quantitative", "scale": {"domain": [0, 5], "nice": false},
             "axis": {"orient": "left", "tickCount": 50, "labelExpr": "datum.value % 1 == 0 ? format(datum.value, 'd') : ''", "tickSize": {"condition": {"test": "datum.value % 1 == 0", "value": -5}, "value": -2.5}, "labelPadding": 8, "title": null}},
           "color": {"datum": "Fugu, g=4", "type": "nominal", "scale": {"range": ["#4a1a8c"]}, "legend": {"title": null}}
         }}
      ],
      "resolve": {"scale": {"x": "independent", "y": "independent"}}
    }
  ],
  "config": {
    "font": "Liberation Serif",
    "view": {"stroke": "#444444", "strokeWidth": 1},
    "axis": {"labelFont": "Liberation Serif", "labelFontSize": 11, "labelColor": "#222222", "titleFont": "Liberation Serif", "titleFontWeight": "normal", "titleColor": "#222222", "domainColor": "#444444", "tickColor": "#444444", "grid": false, "labelOverlap": false, "labelFlush": false, "labelBound": false},
    "legend": {"orient": "top-right", "offset": 5, "padding": 3, "fillColor": "#f0f0f0", "strokeColor": "#9a9a9a", "symbolType": "stroke", "symbolSize": 250, "symbolStrokeWidth": 3, "labelFont": "Liberation Serif", "labelFontSize": 10.5, "labelColor": "#111111", "labelOffset": 8}
  }
}
